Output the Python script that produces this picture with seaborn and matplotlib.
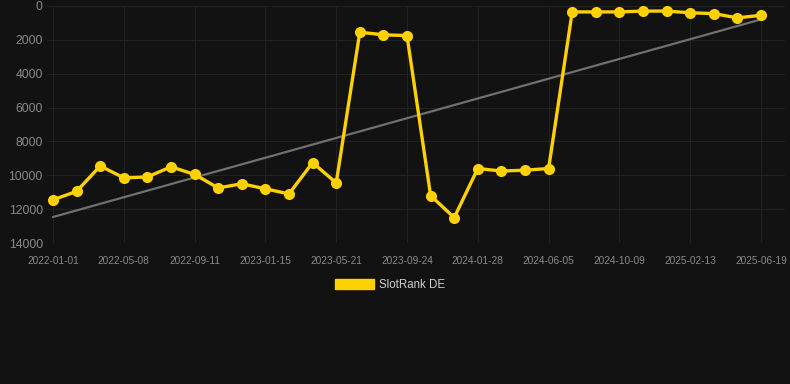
import numpy as np
import pandas as pd
import matplotlib
matplotlib.use("Agg")
import matplotlib.pyplot as plt
import seaborn as sns

# ---- data ----
rank_values = [11450, 10950, 9450, 10150, 10100, 9500, 9950, 10750, 10500, 10800,
               11100, 9250, 10450, 1550, 1700, 1750, 11200, 12500, 9600, 9750,
               9700, 9600, 350, 350, 350, 300, 300, 400, 450, 700, 550]
tick_labels = ["2022-01-01", "2022-05-08", "2022-09-11", "2023-01-15", "2023-05-21",
               "2023-09-24", "2024-01-28", "2024-06-05", "2024-10-09", "2025-02-13",
               "2025-06-19"]
y_ticks = [0, 2000, 4000, 6000, 8000, 10000, 12000, 14000]
series_name = "SlotRank DE"

BG = "#121212"
YELLOW = "#FFD100"
TREND = "#707070"
GRID = "#212121"
TXT = "#8a8a8a"

sns.set_theme(style="dark")
plt.rcParams["font.family"] = ["Liberation Sans", "DejaVu Sans"]

df = pd.DataFrame({"idx": np.arange(len(rank_values)), "rank": rank_values})

fig = plt.figure(figsize=(7.9, 3.84), dpi=100, facecolor=BG)
W, H = 790, 384
left_px, right_px, top_px, bot_px = 47, 785, 6, 243
ax = fig.add_axes([left_px / W, 1 - bot_px / H, (right_px - left_px) / W, (bot_px - top_px) / H])
ax.set_facecolor(BG)

sns.regplot(data=df, x="idx", y="rank", scatter=False, ci=None, ax=ax,
            line_kws=dict(color=TREND, lw=1.6, zorder=2))
sns.lineplot(data=df, x="idx", y="rank", ax=ax, color=YELLOW, lw=2.4,
             marker="o", markersize=8, markeredgewidth=0, zorder=3, clip_on=False)

n = len(rank_values)
px_per = (761 - 53) / (n - 1)
ax.set_xlim(-(53 - left_px) / px_per, (n - 1) + (right_px - 761) / px_per)
ax.set_ylim(14000, 0)
ax.set_yticks(y_ticks)
ax.set_yticklabels([str(v) for v in y_ticks])
tick_pos = np.arange(0, n, 3)
ax.set_xticks(tick_pos)
ax.set_xticklabels(tick_labels)

ax.grid(True, color=GRID, lw=0.8)
ax.tick_params(axis="y", colors=TXT, labelsize=8.8, length=0, pad=3)
ax.tick_params(axis="x", colors=TXT, labelsize=7.3, length=5, width=0.8, pad=4,
               color=GRID)
for s in ax.spines.values():
    s.set_visible(False)
ax.set_xlabel("")
ax.set_ylabel("")

# legend
from matplotlib.patches import Patch
handle = Patch(facecolor=YELLOW, edgecolor=YELLOW)
leg = fig.legend([handle], [series_name], loc="center", bbox_to_anchor=(390 / W, 1 - 285 / H),
                 frameon=False, fontsize=8.3, handlelength=3.4, handleheight=1.0,
                 handletextpad=0.45, labelcolor="#cfcfcf")

fig.savefig("out.png", dpi=100, facecolor=BG)
